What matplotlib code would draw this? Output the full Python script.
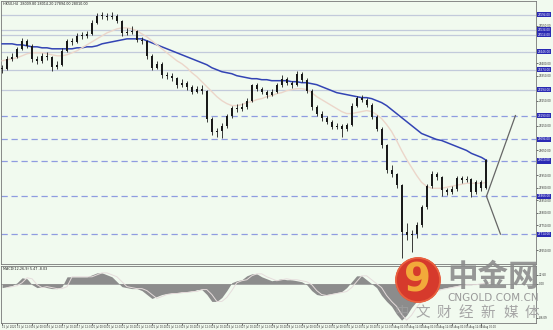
import numpy as np
import matplotlib
matplotlib.use("Agg")
import matplotlib.pyplot as plt
from matplotlib.patches import Circle

# ---- data ----
closes = [28378, 28418, 28426, 28458, 28490, 28470, 28418, 28410, 28430, 28426,
          28386, 28394, 28450, 28490, 28486, 28510, 28510, 28518, 28562, 28590,
          28590, 28586, 28590, 28570, 28522, 28526, 28530, 28494, 28490, 28430,
          28382, 28398, 28354, 28350, 28342, 28314, 28322, 28306, 28286, 28298,
          28290, 28178, 28122, 28126, 28150, 28190, 28222, 28218, 28226, 28250,
          28314, 28298, 28286, 28274, 28286, 28314, 28338, 28322, 28314, 28358,
          28334, 28290, 28226, 28198, 28182, 28166, 28146, 28150, 28138, 28154,
          28230, 28262, 28254, 28234, 28186, 28138, 28070, 27970, 27954, 27910,
          27722, 27710, 27714, 27750, 27822, 27906, 27954, 27942, 27890, 27882,
          27894, 27938, 27930, 27934, 27882, 27922, 27898, 28010]
highs = [28395, 28428, 28440, 28466, 28500, 28498, 28476, 28428, 28440, 28446,
         28430, 28408, 28462, 28498, 28502, 28522, 28526, 28530, 28574, 28602,
         28604, 28600, 28606, 28598, 28574, 28540, 28550, 28534, 28506, 28494,
         28436, 28410, 28404, 28366, 28360, 28346, 28336, 28328, 28312, 28310,
         28312, 28294, 28184, 28140, 28160, 28198, 28230, 28236, 28240, 28262,
         28318, 28320, 28304, 28292, 28296, 28322, 28352, 28344, 28330, 28368,
         28364, 28340, 28296, 28232, 28210, 28190, 28172, 28160, 28156, 28162,
         28242, 28270, 28272, 28260, 28240, 28192, 28144, 28076, 27990, 27960,
         27916, 27760, 27730, 27762, 27830, 27914, 27966, 27964, 27948, 27900,
         27906, 27948, 27946, 27948, 27940, 27932, 27930, 28014]
lows = [28360, 28372, 28410, 28420, 28452, 28462, 28405, 28396, 28402, 28415,
        28370, 28378, 28390, 28444, 28474, 28480, 28496, 28500, 28512, 28556,
        28578, 28572, 28576, 28560, 28510, 28512, 28516, 28484, 28478, 28418,
        28374, 28376, 28340, 28336, 28330, 28300, 28306, 28294, 28276, 28280,
        28278, 28166, 28110, 28102, 28100, 28140, 28182, 28206, 28210, 28218,
        28244, 28288, 28276, 28262, 28268, 28280, 28306, 28312, 28302, 28310,
        28324, 28280, 28214, 28190, 28170, 28156, 28136, 28138, 28102, 28130,
        28148, 28224, 28246, 28226, 28176, 28128, 28058, 27958, 27944, 27900,
        27618, 27690, 27642, 27700, 27744, 27816, 27900, 27930, 27868, 27870,
        27874, 27888, 27920, 27922, 27862, 27876, 27888, 27894]
ma_slow = [28478, 28478, 28478, 28474, 28474, 28470, 28466, 28466, 28462, 28462,
           28458, 28458, 28458, 28458, 28458, 28462, 28462, 28466, 28466, 28470,
           28478, 28482, 28486, 28490, 28494, 28498, 28498, 28498, 28498, 28490,
           28482, 28474, 28466, 28458, 28450, 28442, 28434, 28426, 28418, 28410,
           28402, 28394, 28382, 28374, 28366, 28362, 28358, 28350, 28346, 28342,
           28338, 28338, 28334, 28334, 28330, 28330, 28330, 28330, 28326, 28326,
           28322, 28322, 28318, 28314, 28306, 28298, 28290, 28282, 28278, 28274,
           28270, 28266, 28262, 28262, 28258, 28250, 28242, 28230, 28214, 28198,
           28182, 28166, 28150, 28134, 28118, 28110, 28102, 28094, 28090, 28082,
           28074, 28066, 28058, 28050, 28038, 28030, 28022, 28010]
ma_fast = [28410, 28414, 28418, 28422, 28430, 28438, 28442, 28442, 28442, 28438,
           28434, 28430, 28430, 28434, 28442, 28450, 28462, 28474, 28486, 28498,
           28510, 28522, 28530, 28538, 28542, 28542, 28538, 28530, 28518, 28506,
           28490, 28474, 28458, 28442, 28426, 28410, 28398, 28382, 28362, 28346,
           28326, 28306, 28286, 28266, 28250, 28238, 28230, 28230, 28234, 28242,
           28246, 28254, 28258, 28266, 28270, 28278, 28282, 28290, 28294, 28298,
           28298, 28294, 28282, 28266, 28254, 28242, 28230, 28218, 28206, 28198,
           28198, 28202, 28206, 28210, 28206, 28194, 28178, 28154, 28126, 28090,
           28050, 28014, 27982, 27950, 27922, 27906, 27898, 27898, 27898, 27902,
           27906, 27910, 27914, 27918, 27918, 27918, 27918, 27922]
macd = [-10, -7.5, -5, 2.5, 15, 12.5, -2.5, -10, -7.5, -10,
        -12.5, -12.5, -7.5, 17.5, 17.5, 17.5, 17.5, 17.5, 22.5, 27.5,
        27.5, 22.5, 17.5, 5, -7.5, -10, -12.5, -12.5, -17.5, -27.5,
        -37.5, -32.5, -27.5, -25, -25, -22.5, -22.5, -20, -20, -15,
        -15, -27.5, -45, -45, -35, -17.5, 2.5, 7.5, 10, 20,
        25, 25, 17.5, 12.5, 7.5, 10, 12.5, 10, 10, 7.5,
        5, -2.5, -17.5, -27.5, -30, -27.5, -25, -22.5, -20, -10,
        5, 20, 20, 10, 0, -10, -30, -45, -57.5, -77.5,
        -92.5, -80, -60, -45, -35, -27.5, -20, -15, -12.5, -10,
        -7.5, -5, -2.5, -2.5, -2.5, 0, 0, 5]

levels_solid = [28594, 28534, 28514, 28446, 28374, 28294]
levels_dash = [28190, 28094, 28006, 27866, 27714]
proj_x = [97, 102.8, 99.8]
proj_y = [27866, 28190, 27714]

date_labels = ["15 Jul 2020", "15 Jul 12:00", "16 Jul 00:00", "16 Jul 12:00",
               "17 Jul 00:00", "17 Jul 12:00", "20 Jul 00:00", "20 Jul 12:00",
               "21 Jul 00:00", "21 Jul 12:00", "22 Jul 00:00", "22 Jul 12:00",
               "23 Jul 00:00", "23 Jul 12:00", "24 Jul 00:00", "24 Jul 12:00",
               "27 Jul 00:00", "27 Jul 12:00", "28 Jul 00:00", "28 Jul 12:00",
               "29 Jul 00:00", "29 Jul 12:00", "30 Jul 00:00", "30 Jul 12:00",
               "31 Jul 00:00", "31 Jul 12:00", "3 Aug 00:00", "3 Aug 12:00",
               "4 Aug 00:00", "4 Aug 12:00", "5 Aug 00:00", "5 Aug 12:00",
               "6 Aug 00:00"]

bg = "#f1faef"
x = np.arange(len(closes))
opens = [closes[0]] + closes[:-1]

fig = plt.figure(figsize=(5.53, 3.30), dpi=100, facecolor=bg)
ax = fig.add_axes([0.002, 0.2, 0.968, 0.797], facecolor=bg)
ax2 = fig.add_axes([0.002, 0.021, 0.968, 0.173], facecolor=bg)

# price panel
for lv in levels_solid:
    ax.axhline(lv, color="#c2cadb", lw=0.9, zorder=1)
for lv in levels_dash:
    ax.axhline(lv, color="#8f9be0", lw=0.9, ls=(0, (5, 3)), zorder=1)

ax.plot(x, ma_slow, color="#3344b4", lw=1.1, zorder=3)
ax.plot(x, ma_fast, color="#ecd6ca", lw=1.0, zorder=3)

ax.vlines(x, lows, highs, color="#1a1a1a", lw=0.6, zorder=4)
body_lo = np.minimum(opens, closes)
body_h = np.maximum(np.abs(np.array(closes) - np.array(opens)), 2)
ax.bar(x, body_h, bottom=body_lo, width=0.4, color="#1a1a1a", zorder=5)

ax.plot([proj_x[0], proj_x[1]], [proj_y[0], proj_y[1]], color="#666666", lw=0.9, zorder=4)
ax.plot([proj_x[0], proj_x[2]], [proj_y[0], proj_y[2]], color="#666666", lw=0.9, zorder=4)

ax.set_xlim(-0.2, 107.0)
ax.set_ylim(27594, 28650)
ax.set_xticks([])
boxed = levels_solid + levels_dash + [closes[-1]]
yt = [v for v in range(27650, 28650, 50) if min(abs(v - b) for b in boxed) > 14]
ax.yaxis.tick_right()
ax.set_yticks(yt)
ax.set_yticklabels([f"{v:.2f}" for v in yt], fontsize=2.0, color="#333333")
ax.tick_params(axis="y", length=1.2, width=0.4, pad=0.6)
for s in ax.spines.values():
    s.set_color("#777777")
    s.set_linewidth(0.6)
ax.text(0.004, 0.995, "HK50,H4  28009.80 28014.20 27894.00 28010.00",
        transform=ax.transAxes, fontsize=2.4, va="top", color="#222222")
for lv in boxed:
    ax.text(1.002, lv, f"{lv:.2f}", transform=ax.get_yaxis_transform(),
            fontsize=2.0, color="white", va="center", ha="left", clip_on=False,
            bbox=dict(boxstyle="square,pad=0.2", fc="#2a2ab4", ec="none"))

# macd panel
ax2.fill_between(x, 0, macd, color="#8c8c8c", lw=0, zorder=2)
ax2.plot(x + 1, macd, color="#e6dcdc", lw=0.7, zorder=3)
ax2.axhline(0, color="#8c8c8c", lw=0.5)
ax2.set_xlim(-0.2, 107.0)
ax2.set_ylim(-100, 45)
ax2.yaxis.tick_right()
ax2.set_yticks([22.6, 0, -86.09])
ax2.set_yticklabels(["22.60", "0.00", "-86.09"], fontsize=2.0, color="#333333")
ax2.tick_params(axis="y", length=1.2, width=0.4, pad=0.6)
ax2.set_xticks(np.arange(0, 3 * len(date_labels), 3))
ax2.set_xticklabels(date_labels, fontsize=1.8, color="#333333", ha="left")
ax2.tick_params(axis="x", length=1.2, width=0.4, pad=0.5)
for s in ax2.spines.values():
    s.set_color("#777777")
    s.set_linewidth(0.6)
ax2.text(0.004, 0.98, "MACD(12,26,9) 5.47 -8.03", transform=ax2.transAxes,
         fontsize=2.4, va="top", color="#222222")

# watermark overlay in pixel coordinates
wm = fig.add_axes([0, 0, 1, 1], facecolor="none")
wm.set_xlim(0, 553)
wm.set_ylim(330, 0)
wm.axis("off")
wm.add_patch(Circle((418, 280), 22, color="#d63a2c", zorder=5))
wm.add_patch(Circle((418, 280), 22, fill=False, ec="#e9623f", lw=1.2, zorder=5))
wm.text(418, 281, "9", fontsize=28, fontweight="bold", color="#f2a93a",
        ha="center", va="center", zorder=6)
wm.text(493, 277, "中金网", fontsize=22, fontweight="bold", color="#8c8c8c",
        ha="center", va="center", family=["Noto Sans CJK SC", "DejaVu Sans"], alpha=0.9)
wm.text(493, 298, "CNGOLD.COM.CN", fontsize=7.5, color="#9a9a9a",
        ha="center", va="center", family="DejaVu Sans")
for cx, ch in zip([402, 423, 444, 466, 488, 511, 532], "中文财经新媒体"):
    wm.text(cx, 313, ch, fontsize=10.5, color="#a6a6a6", ha="center", va="center",
            family=["Noto Sans CJK SC", "DejaVu Sans"], alpha=0.55 if ch == "中" else 1)

fig.savefig("out.png", dpi=100, facecolor=bg)
